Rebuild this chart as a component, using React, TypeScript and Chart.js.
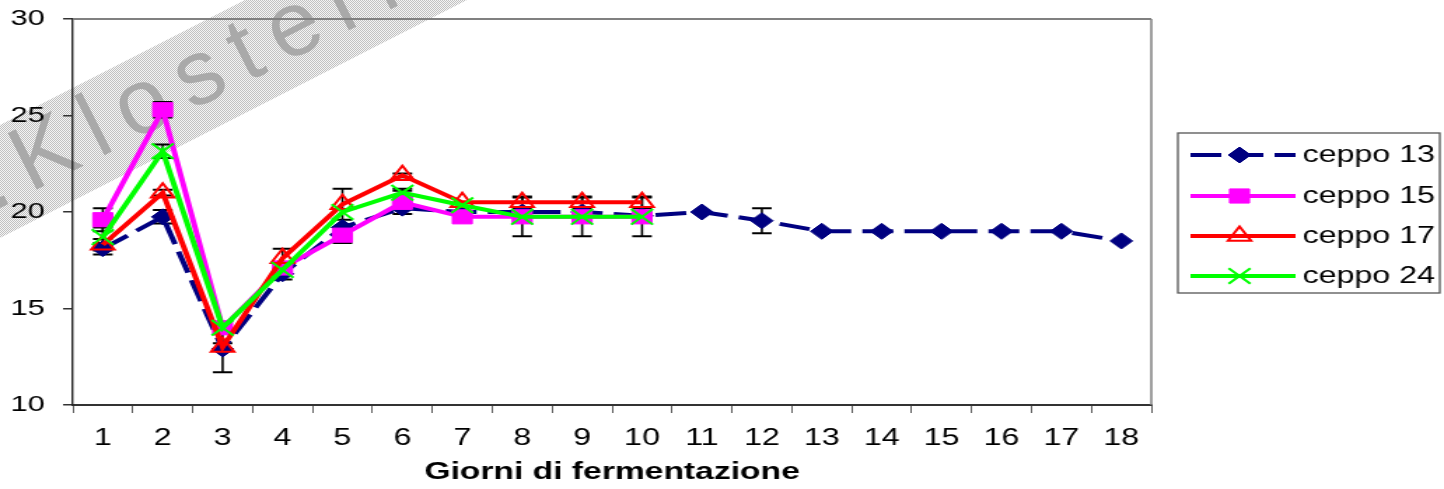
import React, { useEffect, useRef } from 'react';
import { Chart, registerables } from 'chart.js';

Chart.register(...registerables);

// ---------------- data ----------------
const days = ['1', '2', '3', '4', '5', '6', '7', '8', '9', '10', '11', '12', '13', '14', '15', '16', '17', '18'];
const seriesNames = ['ceppo 13', 'ceppo 15', 'ceppo 17', 'ceppo 24'];

const ceppo13 = [18.1, 19.75, 12.9, 16.8, 19.2, 20.2, 20.0, 20.0, 20.0, 19.8, 20.0, 19.55, 19.0, 19.0, 19.0, 19.0, 19.0, 18.5];
const ceppo15 = [19.6, 25.3, 14.0, 17.1, 18.8, 20.5, 19.75, 19.75, 19.75, 19.75, null, null, null, null, null, null, null, null];
const ceppo17 = [18.3, 21.0, 13.0, 17.6, 20.4, 21.9, 20.5, 20.5, 20.5, 20.5, null, null, null, null, null, null, null, null];
const ceppo24 = [18.7, 23.15, 14.0, 17.0, 20.0, 21.0, 20.35, 19.75, 19.75, 19.75, null, null, null, null, null, null, null, null];

// error bars (±)
const err13 = [0.3, 0.35, 1.2, 0.3, 0, 0, 0, 0, 0, 0, 0, 0.65, 0, 0, 0, 0, 0, 0];
const err15 = [0.6, 0.4, 0, 0.2, 0.4, 0.6, 0, 1.0, 1.0, 1.0];
const err17 = [0.3, 0.15, 0.2, 0.5, 0.8, 0.1, 0, 0.3, 0.3, 0.3];
const err24 = [0.5, 0.35, 0, 0, 0, 0.2, 0, 0, 0, 0];

const yTicks = [10, 15, 20, 25, 30];
const xTitle = 'Giorni di fermentazione';
const watermarkText = '.Klosterm';

// ---------------- layout ----------------
const W = 1444;
const H = 489;
const IW = 1031; // internal canvas width (reference is horizontally stretched)
const SX = W / IW;
const FONT = '"Liberation Sans", Arial, Helvetica, sans-serif';

const colors = ['#000080', '#FF00FF', '#FF0000', '#00FF00'];
const styles = ['rectRot', 'rect', 'triangle', 'crossRot'];
const radii = [8, 10, 9.5, 11];
const dashes: number[][] = [[22, 8], [], [], []];
const errs = [err13, err15, err17, err24];

function drawMarker(ctx: CanvasRenderingContext2D, k: number, x: number, y: number) {
  const r = radii[k];
  const style = styles[k];
  ctx.save();
  ctx.setLineDash([]);
  ctx.strokeStyle = colors[k];
  ctx.fillStyle = colors[k];
  ctx.beginPath();
  if (style === 'rectRot') {
    ctx.moveTo(x - r, y);
    ctx.lineTo(x, y - r);
    ctx.lineTo(x + r, y);
    ctx.lineTo(x, y + r);
    ctx.closePath();
    ctx.lineWidth = 1;
    ctx.fill();
    ctx.stroke();
  } else if (style === 'rect') {
    const s = r * Math.SQRT1_2;
    ctx.rect(x - s, y - s, 2 * s, 2 * s);
    ctx.lineWidth = 1;
    ctx.fill();
    ctx.stroke();
  } else if (style === 'triangle') {
    for (let i = 0; i < 3; i++) {
      const a = (i * 2 * Math.PI) / 3;
      const px = x + Math.sin(a) * r;
      const py = y - Math.cos(a) * r;
      if (i === 0) ctx.moveTo(px, py);
      else ctx.lineTo(px, py);
    }
    ctx.closePath();
    ctx.lineWidth = 2;
    ctx.stroke();
  } else {
    const d = r * Math.SQRT1_2;
    ctx.moveTo(x - d, y - d);
    ctx.lineTo(x + d, y + d);
    ctx.moveTo(x + d, y - d);
    ctx.lineTo(x - d, y + d);
    ctx.lineWidth = 2;
    ctx.stroke();
  }
  ctx.restore();
}

const errorBarPlugin = {
  id: 'errorBars',
  beforeDatasetsDraw(chart: any) {
    const ctx: CanvasRenderingContext2D = chart.ctx;
    const ys = chart.scales.y;
    ctx.save();
    ctx.strokeStyle = '#000';
    chart.data.datasets.forEach((ds: any, i: number) => {
      const meta = chart.getDatasetMeta(i);
      const e = errs[i];
      meta.data.forEach((pt: any, j: number) => {
        const v = ds.data[j];
        const d = e[j];
        if (v == null || !d) return;
        const x = pt.x;
        const y1 = ys.getPixelForValue(v + d);
        const y2 = ys.getPixelForValue(v - d);
        ctx.lineWidth = 1.6;
        ctx.beginPath();
        ctx.moveTo(x, y1);
        ctx.lineTo(x, y2);
        ctx.stroke();
        ctx.lineWidth = 2;
        ctx.beginPath();
        ctx.moveTo(x - 7, y1);
        ctx.lineTo(x + 7, y1);
        ctx.moveTo(x - 7, y2);
        ctx.lineTo(x + 7, y2);
        ctx.stroke();
      });
    });
    ctx.restore();
  },
};

const framePlugin = {
  id: 'frameLegend',
  afterDraw(chart: any) {
    const ctx: CanvasRenderingContext2D = chart.ctx;
    const a = chart.chartArea;
    ctx.save();
    // top and right plot borders
    ctx.strokeStyle = '#808080';
    ctx.lineWidth = 2;
    ctx.beginPath();
    ctx.moveTo(a.left, a.top);
    ctx.lineTo(a.right, a.top);
    ctx.stroke();
    ctx.lineWidth = 1.5;
    ctx.beginPath();
    ctx.moveTo(a.right, a.top);
    ctx.lineTo(a.right, a.bottom);
    ctx.stroke();

    // legend
    const lx0 = 841;
    const lx1 = 1028;
    const ly0 = 133;
    const ly1 = 293;
    ctx.strokeStyle = '#555';
    ctx.lineWidth = 1.3;
    ctx.strokeRect(lx0, ly0, lx1 - lx0, ly1 - ly0);
    const rows = [155, 196, 236, 276];
    chart.data.datasets.forEach((ds: any, k: number) => {
      const y = rows[k];
      ctx.save();
      ctx.strokeStyle = colors[k];
      ctx.lineWidth = 4;
      ctx.setLineDash(dashes[k]);
      ctx.beginPath();
      ctx.moveTo(850, y);
      ctx.lineTo(925, y);
      ctx.stroke();
      ctx.restore();
      drawMarker(ctx, k, 885, y);
      ctx.fillStyle = '#000';
      ctx.font = `23px ${FONT}`;
      ctx.textBaseline = 'middle';
      ctx.textAlign = 'left';
      ctx.fillText(ds.label, 930, y + 1);
    });
    ctx.restore();
  },
};

export default function App() {
  const chartRef = useRef<HTMLCanvasElement | null>(null);
  const wmRef = useRef<HTMLCanvasElement | null>(null);

  useEffect(() => {
    // watermark layer (not stretched)
    const wc = wmRef.current;
    if (wc) {
      const ctx = wc.getContext('2d')!;
      ctx.fillStyle = '#fff';
      ctx.fillRect(0, 0, W, H);
      const p = document.createElement('canvas');
      p.width = 2;
      p.height = 2;
      const pc = p.getContext('2d')!;
      pc.fillStyle = '#f3f3f3';
      pc.fillRect(0, 0, 2, 2);
      pc.fillStyle = '#c2c2c2';
      pc.fillRect(0, 0, 1, 1);
      pc.fillRect(1, 1, 1, 1);
      const pat = ctx.createPattern(p, 'repeat');
      if (pat) ctx.fillStyle = pat;
      ctx.beginPath();
      ctx.moveTo(0, 125);
      ctx.lineTo(245, 0);
      ctx.lineTo(467, 0);
      ctx.lineTo(0, 238);
      ctx.closePath();
      ctx.fill();

      ctx.save();
      ctx.translate(30, 193);
      ctx.rotate((-27 * Math.PI) / 180);
      ctx.font = `92px ${FONT}`;
      ctx.fillStyle = '#a9a9a9';
      ctx.textBaseline = 'alphabetic';
      const gap = 16;
      const chars = Array.from(watermarkText);
      let u = -(ctx.measureText(chars[0]).width + gap);
      for (const ch of chars) {
        ctx.fillText(ch, u, 0);
        u += ctx.measureText(ch).width + gap;
      }
      ctx.restore();
    }

    const canvas = chartRef.current;
    if (!canvas) return;
    Chart.defaults.font.family = FONT;
    const series = [ceppo13, ceppo15, ceppo17, ceppo24];
    const chart = new Chart(canvas, {
      type: 'line',
      data: {
        labels: days,
        datasets: series.map((d, k) => ({
          label: seriesNames[k],
          data: d,
          order: 4 - k,
          borderColor: colors[k],
          backgroundColor: colors[k],
          borderWidth: 4,
          borderDash: dashes[k],
          tension: 0,
          fill: false,
          spanGaps: false,
          pointStyle: styles[k] as any,
          pointRadius: radii[k],
          pointHoverRadius: radii[k],
          pointBackgroundColor: k === 2 ? 'rgba(0,0,0,0)' : colors[k],
          pointBorderColor: colors[k],
          pointBorderWidth: k >= 2 ? 2 : 1,
        })),
      },
      options: {
        responsive: false,
        animation: false,
        devicePixelRatio: 1,
        events: [],
        layout: { padding: { left: 0, top: 19, right: IW - 822, bottom: 0 } },
        plugins: {
          legend: { display: false },
          tooltip: { enabled: false },
        },
        scales: {
          x: {
            type: 'category',
            offset: true,
            grid: {
              offset: true,
              drawOnChartArea: false,
              drawTicks: true,
              tickLength: 8,
              color: '#333',
              lineWidth: 0.8,
            },
            border: { display: true, color: '#333', width: 2 },
            ticks: {
              color: '#000',
              font: { size: 23, family: FONT },
              padding: 12,
              maxRotation: 0,
              autoSkip: false,
            },
            title: {
              display: true,
              text: xTitle,
              color: '#000',
              font: { size: 24, weight: 'bold', family: FONT },
              padding: { top: 0, bottom: 2 },
            },
            afterFit: (s: any) => {
              s.height = 84;
              s.paddingLeft = 0;
              s.paddingRight = 0;
            },
          },
          y: {
            min: 10,
            max: 30,
            afterBuildTicks: (s: any) => {
              s.ticks = yTicks.map((v) => ({ value: v }));
            },
            ticks: {
              color: '#000',
              font: { size: 22, family: FONT },
              padding: 13,
            },
            grid: {
              drawOnChartArea: false,
              drawTicks: true,
              tickLength: 7,
              color: '#333',
              lineWidth: 1.5,
            },
            border: { display: true, color: '#222', width: 1.4 },
            afterFit: (s: any) => {
              s.width = 52;
              s.paddingTop = 0;
              s.paddingBottom = 0;
            },
          },
        },
      } as any,
      plugins: [errorBarPlugin, framePlugin],
    });
    return () => {
      chart.destroy();
    };
  }, []);

  return (
    <div
      style={{
        position: 'absolute',
        left: 0,
        top: 0,
        width: W,
        height: H,
        overflow: 'hidden',
        background: '#fff',
      }}
    >
      <canvas
        ref={wmRef}
        width={W}
        height={H}
        style={{ position: 'absolute', left: 0, top: 0, width: `${W}px`, height: `${H}px` }}
      />
      <div
        style={{
          position: 'absolute',
          left: 0,
          top: 0,
          width: IW,
          height: H,
          transform: `scaleX(${SX})`,
          transformOrigin: '0 0',
        }}
      >
        <canvas
          ref={chartRef}
          width={IW}
          height={H}
          style={{ display: 'block', width: `${IW}px`, height: `${H}px` }}
        />
      </div>
    </div>
  );
}
